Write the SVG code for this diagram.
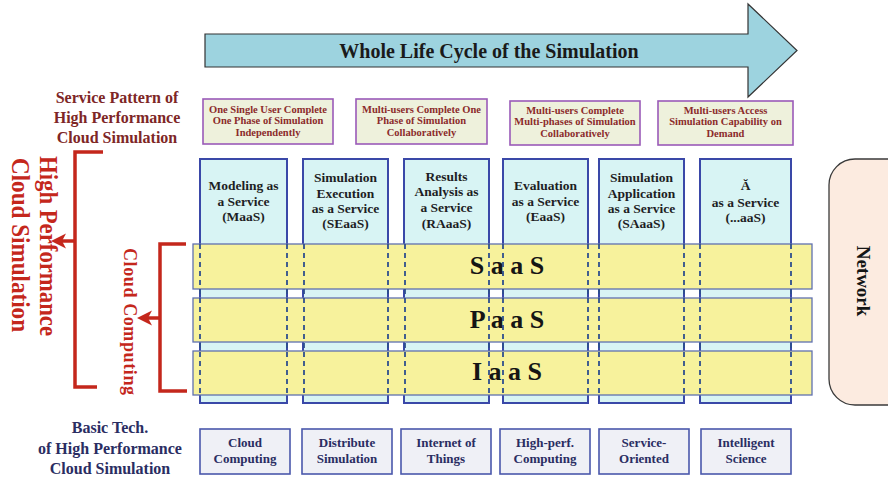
<svg xmlns="http://www.w3.org/2000/svg" width="888" height="477" viewBox="0 0 888 477">
  <style>
    text { font-family: "Liberation Serif", "Times New Roman", serif; font-weight: bold; text-anchor: middle; }
    .pattern { fill: #eef1dc; stroke: #9a5ab8; stroke-width: 1.6; }
    .pattern-t { font-size: 10.5px; fill: #8b2b2b; }
    .col { fill: #d8f4f4; stroke: #3a48a8; stroke-width: 2; }
    .col-t { font-size: 13.5px; fill: #1e1e24; }
    .bar { fill: #f7f29c; stroke: #6070b0; stroke-width: 1.3; }
    .bar-t { font-size: 26px; fill: #151515; }
    .dash { stroke: #2e4f8e; stroke-width: 1.8; stroke-dasharray: 5 4; fill: none; }
    .tech { fill: #eff0f6; stroke: #4a58ac; stroke-width: 1.6; }
    .tech-t { font-size: 13px; fill: #2a2d62; }
    .side-brown { font-size: 16px; fill: #7e2626; }
    .side-navy { font-size: 16px; fill: #2a2d62; }
    .red-t { fill: #c4271c; }
    .bracket { fill: none; stroke: #c4271c; stroke-width: 3.5; }
    .red-head { fill: #c4271c; }
  </style>

  <!-- life cycle arrow -->
  <g id="lifecycle">
    <path d="M205,34 L748,34 L748,4 L797,50.5 L748,97 L748,67 L205,67 Z" fill="#9dd3df" stroke="#333" stroke-width="1.2"/>
    <text x="489" y="57.5" font-size="20px" fill="#1a1a1a">Whole Life Cycle of the Simulation</text>
  </g>

  <!-- left captions -->
  <g id="label-service-pattern">
    <text class="side-brown" x="117" y="102.5">Service Pattern of</text>
    <text class="side-brown" x="117" y="122.5">High Performance</text>
    <text class="side-brown" x="117" y="142.5">Cloud Simulation</text>
  </g>
  <g id="label-hpcs">
    <text class="red-t" font-size="26px" transform="translate(40,246) rotate(90)" textLength="180" lengthAdjust="spacingAndGlyphs">High Performance</text>
    <text class="red-t" font-size="26px" transform="translate(12,245) rotate(90)" textLength="174" lengthAdjust="spacingAndGlyphs">Cloud Simulation</text>
  </g>
  <g id="label-cloud-computing">
    <text class="red-t" font-size="18px" transform="translate(124,321.5) rotate(90)" textLength="147" lengthAdjust="spacing">Cloud Computing</text>
  </g>
  <g id="label-basic-tech">
    <text class="side-navy" x="110" y="433">Basic Tech.</text>
    <text class="side-navy" x="110" y="454">of High Performance</text>
    <text class="side-navy" x="110" y="474">Cloud Simulation</text>
  </g>

  <!-- service patterns -->
  <g id="pattern-1">
    <rect class="pattern" x="203" y="99" width="130" height="45"/>
    <text class="pattern-t" x="268" y="112.5">One Single User Complete</text>
    <text class="pattern-t" x="268" y="124">One Phase of Simulation</text>
    <text class="pattern-t" x="268" y="135.5">Independently</text>
  </g>
  <g id="pattern-2">
    <rect class="pattern" x="356" y="99" width="131" height="45"/>
    <text class="pattern-t" x="421.5" y="112.5">Multi-users Complete One</text>
    <text class="pattern-t" x="421.5" y="124">Phase of Simulation</text>
    <text class="pattern-t" x="421.5" y="135.5">Collaboratively</text>
  </g>
  <g id="pattern-3">
    <rect class="pattern" x="510" y="101" width="130" height="44"/>
    <text class="pattern-t" x="575" y="113.5">Multi-users Complete</text>
    <text class="pattern-t" x="575" y="125">Multi-phases of Simulation</text>
    <text class="pattern-t" x="575" y="136.5">Collaboratively</text>
  </g>
  <g id="pattern-4">
    <rect class="pattern" x="658" y="101" width="135" height="44"/>
    <text class="pattern-t" x="725.5" y="113.5">Multi-users Access</text>
    <text class="pattern-t" x="725.5" y="125">Simulation Capability on</text>
    <text class="pattern-t" x="725.5" y="136.5">Demand</text>
  </g>

  <!-- service columns -->
  <g id="maas">
    <rect class="col" x="200" y="159" width="87" height="244"/>
    <text class="col-t" x="243.5" y="190">Modeling as</text>
    <text class="col-t" x="243.5" y="205.5">a Service</text>
    <text class="col-t" x="243.5" y="221">(MaaS)</text>
  </g>
  <g id="seaas">
    <rect class="col" x="303" y="159" width="85" height="244"/>
    <text class="col-t" x="345.5" y="182">Simulation</text>
    <text class="col-t" x="345.5" y="197.5">Execution</text>
    <text class="col-t" x="345.5" y="213">as a Service</text>
    <text class="col-t" x="345.5" y="228">(SEaaS)</text>
  </g>
  <g id="raaas">
    <rect class="col" x="404" y="159" width="85" height="244"/>
    <text class="col-t" x="446.5" y="180.5">Results</text>
    <text class="col-t" x="446.5" y="196">Analysis as</text>
    <text class="col-t" x="446.5" y="212">a Service</text>
    <text class="col-t" x="446.5" y="227.5">(RAaaS)</text>
  </g>
  <g id="eaas">
    <rect class="col" x="503" y="159" width="85" height="244"/>
    <text class="col-t" x="545.5" y="190">Evaluation</text>
    <text class="col-t" x="545.5" y="206">as a Service</text>
    <text class="col-t" x="545.5" y="221">(EaaS)</text>
  </g>
  <g id="saaas">
    <rect class="col" x="599" y="159" width="85" height="244"/>
    <text class="col-t" x="641.5" y="182">Simulation</text>
    <text class="col-t" x="641.5" y="197.5">Application</text>
    <text class="col-t" x="641.5" y="213">as a Service</text>
    <text class="col-t" x="641.5" y="228">(SAaaS)</text>
  </g>
  <g id="xaas">
    <rect class="col" x="700" y="159" width="91" height="244"/>
    <text class="col-t" x="745.5" y="190">Ă</text>
    <text class="col-t" x="745.5" y="206.5">as a Service</text>
    <text class="col-t" x="745.5" y="222">(...aaS)</text>
  </g>

  <!-- cloud layers -->
  <g id="saas">
    <rect class="bar" x="193" y="244" width="619" height="45"/>
    <text class="bar-t" x="507" y="274">S a a S</text>
  </g>
  <g id="paas">
    <rect class="bar" x="193" y="298" width="619" height="44"/>
    <text class="bar-t" x="507" y="327.5">P a a S</text>
  </g>
  <g id="iaas">
    <rect class="bar" x="193" y="351" width="619" height="44"/>
    <text class="bar-t" x="507" y="380">I a a S</text>
  </g>

  <!-- column edges running through the layers -->
  <g id="column-edges">
    <path class="dash" d="M200,244 V395 M287,244 V395 M304,244 V395 M388,244 V395 M405,244 V395 M489,244 V395 M503,244 V395 M588,244 V395 M599,244 V395 M684,244 V395 M700,244 V395 M791,244 V395"/>
  </g>

  <!-- network -->
  <g id="network">
    <rect x="829" y="159" width="90" height="246" rx="26" ry="26" fill="#fcebe0" stroke="#3a3a3a" stroke-width="1.3"/>
    <text font-size="19px" fill="#151515" transform="translate(857,281) rotate(90)">Network</text>
  </g>

  <!-- basic technologies -->
  <g id="tech-cloud">
    <rect class="tech" x="200" y="429" width="90" height="45"/>
    <text class="tech-t" x="245" y="447">Cloud</text>
    <text class="tech-t" x="245" y="463">Computing</text>
  </g>
  <g id="tech-distribute">
    <rect class="tech" x="302" y="429" width="90" height="45"/>
    <text class="tech-t" x="347" y="447">Distribute</text>
    <text class="tech-t" x="347" y="463">Simulation</text>
  </g>
  <g id="tech-iot">
    <rect class="tech" x="401" y="429" width="90" height="45"/>
    <text class="tech-t" x="446" y="447">Internet of</text>
    <text class="tech-t" x="446" y="463">Things</text>
  </g>
  <g id="tech-hpc">
    <rect class="tech" x="500" y="429" width="90" height="45"/>
    <text class="tech-t" x="545" y="447">High-perf.</text>
    <text class="tech-t" x="545" y="463">Computing</text>
  </g>
  <g id="tech-soa">
    <rect class="tech" x="599" y="429" width="90" height="45"/>
    <text class="tech-t" x="644" y="447">Service-</text>
    <text class="tech-t" x="644" y="463">Oriented</text>
  </g>
  <g id="tech-intelligent">
    <rect class="tech" x="701" y="429" width="90" height="45"/>
    <text class="tech-t" x="746" y="447">Intelligent</text>
    <text class="tech-t" x="746" y="463">Science</text>
  </g>

  <!-- brackets -->
  <g id="connectors">
    <path class="bracket" d="M103,152 H75 V387 H97"/>
    <path class="bracket" d="M75,241 H61"/>
    <path class="red-head" d="M51,241 L66,233.5 L62,241 L66,248.5 Z"/>
    <path class="bracket" d="M186,244 H160 V391 H187"/>
    <path class="bracket" d="M160,318 H148"/>
    <path class="red-head" d="M137,318 L152,310.5 L148,318 L152,325.5 Z"/>
  </g>
</svg>
